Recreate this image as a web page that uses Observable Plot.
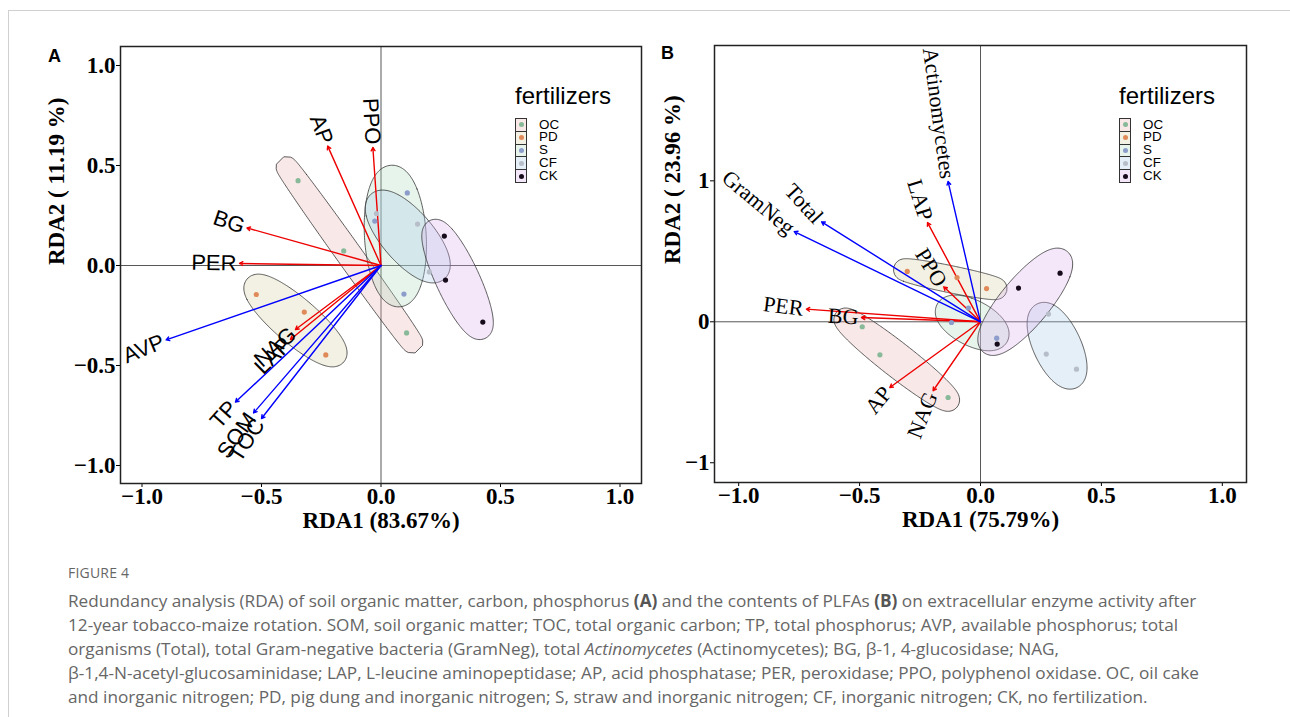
<!DOCTYPE html>
<html>
<head>
<meta charset="utf-8">
<script src="https://cdn.jsdelivr.net/npm/d3@7"></script>
<script src="https://cdn.jsdelivr.net/npm/@observablehq/plot@0.6"></script>
<style>
  html, body { margin: 0; padding: 0; background: #fff; }
  body { width: 1290px; height: 717px; overflow: hidden; position: relative; font-family: "Liberation Sans", Arial, sans-serif; }
  .abs { position: absolute; }
  .panelLetter { position: absolute; font: bold 18px "Liberation Sans", Arial, sans-serif; color: #000; line-height: 18px; }
  .legTitle { position: absolute; font: 24px "Liberation Sans", Arial, sans-serif; color: #000; line-height: 28px; white-space: nowrap; }
  .legKey { position: absolute; width: 10px; height: 11.8px; border: 1px solid #333; box-sizing: content-box; }
  .legDot { position: absolute; width: 5px; height: 5px; border-radius: 50%; left: 2.5px; top: 3.4px; }
  .legLab { position: absolute; font: 13.4px "Liberation Sans", Arial, sans-serif; line-height: 12.7px; height: 12.7px; color: #000; }
  #caption { position: absolute; left: 68px; top: 563px; color: #666; font-family: "Open Sans", "Noto Sans", sans-serif; }
  #caption .fig { font-size: 14px; line-height: 20px; margin-bottom: 6px; letter-spacing: 0.2px; }
  #caption .txt { font-size: 17.2px; line-height: 24px; white-space: nowrap; }
  #caption b { font-weight: 700; color: #555; }
  #borderV { position: absolute; left: 8px; top: 10px; width: 1px; height: 707px; background: #d0d0d0; }
  #borderH { position: absolute; left: 8px; top: 10px; width: 1282px; height: 1px; background: #d0d0d0; }
</style>
</head>
<body>
<div id="borderV"></div><div id="borderH"></div>
<div id="root"></div>
<div id="caption">
  <div class="fig">FIGURE 4</div>
  <div class="txt">Redundancy analysis (RDA) of soil organic matter, carbon, phosphorus <b>(A)</b> and the contents of PLFAs <b>(B)</b> on extracellular enzyme activity after</div>
  <div class="txt">12-year tobacco-maize rotation. SOM, soil organic matter; TOC, total organic carbon; TP, total phosphorus; AVP, available phosphorus; total</div>
  <div class="txt">organisms (Total), total Gram-negative bacteria (GramNeg), total <i>Actinomycetes</i> (Actinomycetes); BG, β-1, 4-glucosidase; NAG,</div>
  <div class="txt">β-1,4-N-acetyl-glucosaminidase; LAP, L-leucine aminopeptidase; AP, acid phosphatase; PER, peroxidase; PPO, polyphenol oxidase. OC, oil cake</div>
  <div class="txt">and inorganic nitrogen; PD, pig dung and inorganic nitrogen; S, straw and inorganic nitrogen; CF, inorganic nitrogen; CK, no fertilization.</div>
</div>
<script>
// ---------------- DATA ----------------
const groups = ["OC", "PD", "S", "CF", "CK"];
const pointColors = ["#88b998", "#e08a5a", "#8c9dcb", "#b7bec9", "#160b1a"];
const fillColors = ["#e8b2b2", "#d6d1a2", "#b0dcbc", "#a8cbe8", "#d9b0f0"];

// Panel A: sample scores
const aGroup = ["OC","OC","OC","PD","PD","PD","S","S","S","CF","CF","CF","CK","CK","CK"];
const aRDA1  = [-0.347,-0.156,0.107,-0.522,-0.321,-0.231,0.110,-0.026,0.096,-0.019,0.153,0.202,0.265,0.270,0.426];
const aRDA2  = [0.424,0.073,-0.337,-0.145,-0.233,-0.447,0.363,0.222,-0.143,0.260,0.207,-0.032,0.147,-0.073,-0.283];
// Panel A: variable vectors
const aVarName = ["PPO","AP","BG","PER","NAG","LAP","AVP","TP","SOM","TOC"];
const aVarType = ["enzyme","enzyme","enzyme","enzyme","enzyme","enzyme","env","env","env","env"];
const aVarX    = [-0.034,-0.223,-0.561,-0.592,-0.358,-0.379,-0.899,-0.609,-0.533,-0.500];
const aVarY    = [0.590,0.597,0.188,0.010,-0.320,-0.370,-0.372,-0.683,-0.737,-0.765];

// Panel B: sample scores
const bGroup = ["OC","OC","OC","PD","PD","PD","S","S","S","CF","CF","CF","CK","CK","CK"];
const bRDA1  = [-0.489,-0.416,-0.134,-0.303,-0.097,0.025,-0.050,-0.120,0.067,0.281,0.272,0.397,0.329,0.157,0.069];
const bRDA2  = [-0.035,-0.234,-0.537,0.357,0.314,0.236,0.097,-0.005,-0.116,0.055,-0.229,-0.336,0.345,0.239,-0.158];
// Panel B: variable vectors
const bVarName = ["Actinomycetes","Total","GramNeg","LAP","PPO","PER","BG","AP","NAG"];
const bVarType = ["env","env","env","enzyme","enzyme","enzyme","enzyme","enzyme","enzyme"];
const bVarX    = [-0.134,-0.657,-0.770,-0.219,-0.152,-0.720,-0.492,-0.375,-0.196];
const bVarY    = [0.995,0.709,0.640,0.704,0.248,0.090,0.030,-0.466,-0.489];

// Axis texts
const aXTitle = "RDA1 (83.67%)", aYTitle = "RDA2 ( 11.19 %)";
const bXTitle = "RDA1 (75.79%)", bYTitle = "RDA2 ( 23.96 %)";
const aXTicks = [-1, -0.5, 0, 0.5, 1], aYTicks = [-1, -0.5, 0, 0.5, 1];
const bXTicks = [-1, -0.5, 0, 0.5, 1], bYTicks = [-1, 0, 1];

// ---------------- LAYOUT ----------------
const RED = "#ee0000", BLUE = "#0000ff";
const panels = [
  { letter: "A", left: 0, width: 650, height: 540, mL: 120, mR: 9, mT: 46, mB: 57,
    xDomain: [-1.09, 1.09], yDomain: [-1.09, 1.095], xTicks: aXTicks, yTicks: aYTicks,
    xFmt: d3.format(".1f"), yFmt: d3.format(".1f"), xTitle: aXTitle, yTitle: aYTitle, yTitleDx: -64,
    labelFont: "'Liberation Sans', Arial, sans-serif",
    group: aGroup, rda1: aRDA1, rda2: aRDA2, vName: aVarName, vType: aVarType, vX: aVarX, vY: aVarY,
    legendLeft: 515, letterLeft: 48, letterTop: 47 },
  { letter: "B", left: 650, width: 640, height: 540, mL: 64, mR: 44, mT: 45, mB: 58,
    xDomain: [-1.1, 1.1], yDomain: [-1.14, 1.96], xTicks: bXTicks, yTicks: bYTicks,
    xFmt: d3.format(".1f"), yFmt: d3.format("d"), xTitle: bXTitle, yTitle: bYTitle, yTitleDx: -42,
    labelFont: "'Liberation Serif', 'Times New Roman', serif",
    group: bGroup, rda1: bRDA1, rda2: bRDA2, vName: bVarName, vType: bVarType, vX: bVarX, vY: bVarY,
    legendLeft: 1119, letterLeft: 661, letterTop: 44 }
];

// Enclosing (Steiner) ellipse of three points, expanded by a margin in pixels
function markEllipse(pts, kx, ky, expand, n = 240) {
  const P = pts.map(([x, y]) => [x * kx, -y * ky]);
  const G = [(P[0][0] + P[1][0] + P[2][0]) / 3, (P[0][1] + P[1][1] + P[2][1]) / 3];
  const a = [P[0][0] - G[0], P[0][1] - G[1]];
  const s3 = Math.sqrt(3);
  const b = [(P[2][0] - P[1][0]) / s3, (P[2][1] - P[1][1]) / s3];
  const out = [];
  for (let i = 0; i <= n; i++) {
    const t = (2 * Math.PI * i) / n;
    const c = Math.cos(t), s = Math.sin(t);
    const p = [G[0] + c * a[0] + s * b[0], G[1] + c * a[1] + s * b[1]];
    const T = [-s * a[0] + c * b[0], -s * a[1] + c * b[1]];
    let nv = [T[1], -T[0]];
    if (nv[0] * (p[0] - G[0]) + nv[1] * (p[1] - G[1]) < 0) nv = [-nv[0], -nv[1]];
    const L = Math.hypot(nv[0], nv[1]) || 1;
    const q = [p[0] + expand * nv[0] / L, p[1] + expand * nv[1] / L];
    out.push({ x: q[0] / kx, y: -q[1] / ky });
  }
  return out;
}

const root = document.getElementById("root");

for (const cfg of panels) {
  const kx = (cfg.width - cfg.mL - cfg.mR) / (cfg.xDomain[1] - cfg.xDomain[0]);
  const ky = (cfg.height - cfg.mT - cfg.mB) / (cfg.yDomain[1] - cfg.yDomain[0]);
  const samples = cfg.group.map((g, i) => ({ group: g, x: cfg.rda1[i], y: cfg.rda2[i] }));
  const vars = cfg.vName.map((nm, i) => ({ name: nm, type: cfg.vType[i], x: cfg.vX[i], y: cfg.vY[i] }));

  const ellipseMarks = groups.map((g, gi) => {
    const pts = samples.filter(d => d.group === g).map(d => [d.x, d.y]);
    return Plot.line(markEllipse(pts, kx, ky, 10.5), {
      x: "x", y: "y", fill: fillColors[gi], fillOpacity: 0.3, stroke: "#333", strokeWidth: 0.8, curve: "linear-closed"
    });
  });

  const gap = 3;
  const labels = vars.map(v => {
    let ang = Math.atan2(v.y, -v.x) * 180 / Math.PI;
    let anchor = "end";
    if (ang > 90) { ang -= 180; anchor = "start"; }
    else if (ang < -90) { ang += 180; anchor = "start"; }
    const px = v.x * kx, py = -v.y * ky, L = Math.hypot(px, py);
    return { ...v, lx: v.x + (px / L) * gap / kx, ly: v.y - (py / L) * gap / ky, rot: ang, anchor };
  });

  const textOpts = { x: "lx", y: "ly", text: "name", rotate: "rot", fill: "black",
    fontFamily: cfg.labelFont, fontSize: 22, fontWeight: "normal", clip: true };

  const plot = Plot.plot({
    width: cfg.width, height: cfg.height,
    marginLeft: cfg.mL, marginRight: cfg.mR, marginTop: cfg.mT, marginBottom: cfg.mB,
    x: { domain: cfg.xDomain, ticks: cfg.xTicks, tickFormat: cfg.xFmt, tickSize: 4, tickPadding: 0, label: null },
    y: { domain: cfg.yDomain, ticks: cfg.yTicks, tickFormat: cfg.yFmt, tickSize: 4, tickPadding: 1, label: null },
    color: { domain: groups, range: pointColors },
    style: { fontFamily: "'Liberation Serif', 'Times New Roman', serif", fontSize: "23px", fontWeight: "bold",
             color: "black", background: "transparent", overflow: "visible" },
    marks: [
      Plot.ruleX([0], { stroke: "#444", strokeWidth: 0.9 }),
      Plot.ruleY([0], { stroke: "#444", strokeWidth: 0.9 }),
      ...ellipseMarks,
      Plot.arrow(vars.filter(d => d.type === "enzyme"), { x1: () => 0, y1: () => 0, x2: "x", y2: "y", stroke: RED, strokeWidth: 1.4, headLength: 4 }),
      Plot.arrow(vars.filter(d => d.type !== "enzyme"), { x1: () => 0, y1: () => 0, x2: "x", y2: "y", stroke: BLUE, strokeWidth: 1.4, headLength: 4 }),
      Plot.dot(samples, { x: "x", y: "y", fill: "group", r: 2.6, stroke: null }),
      Plot.text(labels.filter(d => d.anchor === "end"), { ...textOpts, textAnchor: "end" }),
      Plot.text(labels.filter(d => d.anchor === "start"), { ...textOpts, textAnchor: "start" }),
      Plot.frame({ stroke: "#222", strokeWidth: 1.5 }),
      Plot.text([cfg.xTitle], { text: d => d, frameAnchor: "bottom", dy: 44, fontSize: 23, fontWeight: "bold" }),
      Plot.text([cfg.yTitle], { text: d => d, frameAnchor: "left", dx: cfg.yTitleDx, rotate: -90, fontSize: 23, fontWeight: "bold" })
    ]
  });

  const wrap = document.createElement("div");
  wrap.className = "abs";
  wrap.style.left = cfg.left + "px";
  wrap.style.top = "0px";
  wrap.style.width = cfg.width + "px";
  wrap.appendChild(plot);
  root.appendChild(wrap);

  const letter = document.createElement("div");
  letter.className = "panelLetter";
  letter.style.left = cfg.letterLeft + "px";
  letter.style.top = cfg.letterTop + "px";
  letter.textContent = cfg.letter;
  root.appendChild(letter);

  const lt = document.createElement("div");
  lt.className = "legTitle";
  lt.style.left = cfg.legendLeft + "px";
  lt.style.top = "82px";
  lt.textContent = "fertilizers";
  root.appendChild(lt);
  groups.forEach((g, gi) => {
    const key = document.createElement("div");
    key.className = "legKey";
    key.style.left = cfg.legendLeft + "px";
    key.style.top = (118 + gi * 12.8) + "px";
    const c = d3.color(fillColors[gi]); c.opacity = 0.3;
    key.style.background = c.formatRgb();
    const dot = document.createElement("div");
    dot.className = "legDot";
    dot.style.background = pointColors[gi];
    key.appendChild(dot);
    root.appendChild(key);
    const lab = document.createElement("div");
    lab.className = "legLab";
    lab.style.left = (cfg.legendLeft + 24) + "px";
    lab.style.top = (118.5 + gi * 12.8) + "px";
    lab.textContent = g;
    root.appendChild(lab);
  });
}
</script>
</body>
</html>
